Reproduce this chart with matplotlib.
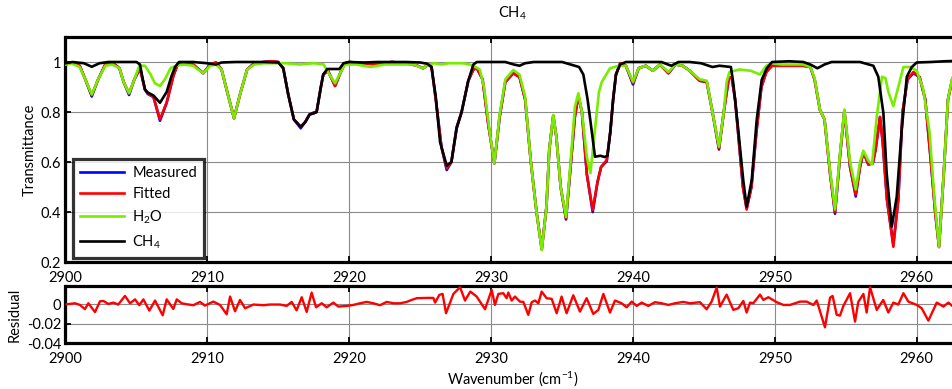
import matplotlib
matplotlib.use("Agg")
import matplotlib.pyplot as plt

plt.rcParams['font.family'] = ['Lato', 'DejaVu Sans']
plt.rcParams['mathtext.fontset'] = 'custom'
plt.rcParams['mathtext.rm'] = 'Lato'
plt.rcParams['mathtext.it'] = 'Lato'
plt.rcParams['mathtext.default'] = 'regular'

# ---------------- data ----------------
wn_fit = [2900.0, 2900.4, 2901.0, 2901.4, 2901.85, 2902.3, 2902.8, 2903.3, 2903.8, 2904.1,
          2904.48, 2904.85, 2905.25, 2905.6, 2905.8, 2906.2, 2906.66, 2907.13, 2907.6, 2907.9,
          2908.3, 2909.0, 2909.71, 2910.2, 2910.6, 2911.0, 2911.4, 2911.88, 2912.3, 2912.8,
          2913.3, 2914.0, 2914.5, 2915.0, 2915.35, 2915.7, 2916.1, 2916.58, 2916.9, 2917.2,
          2917.5, 2917.7, 2918.0, 2918.17, 2918.5, 2919.0, 2919.4, 2919.7, 2920.0, 2921.0,
          2922.0, 2923.0, 2924.0, 2924.8, 2925.2, 2925.6, 2925.8, 2926.1, 2926.5, 2926.87,
          2927.2, 2927.57, 2927.92, 2928.39, 2928.75, 2929.0, 2929.4, 2929.8, 2930.23, 2930.6,
          2931.0, 2931.56, 2932.0, 2932.4, 2932.8, 2933.2, 2933.57, 2933.9, 2934.1, 2934.38,
          2934.6, 2934.9, 2935.28, 2935.6, 2935.9, 2936.15, 2936.4, 2936.75, 2937.16, 2937.5,
          2937.75, 2938.15, 2938.4, 2938.6, 2938.8, 2939.1, 2939.5, 2940.0, 2940.4, 2940.9,
          2941.4, 2941.9, 2942.5, 2943.0, 2943.5, 2944.0, 2944.7, 2945.2, 2945.6, 2946.06,
          2946.4, 2946.75, 2946.95, 2947.2, 2947.5, 2947.75, 2948.01, 2948.35, 2948.7, 2949.05,
          2949.4, 2949.8, 2950.5, 2952.0, 2952.5, 2952.8, 2953.18, 2953.5, 2953.9, 2954.24,
          2954.6, 2954.9, 2955.3, 2955.7, 2956.0, 2956.24, 2956.59, 2956.9, 2957.1, 2957.41,
          2957.6, 2957.9, 2958.35, 2958.7, 2959.0, 2959.35, 2959.76, 2960.2, 2960.6, 2961.0,
          2961.3, 2961.57, 2961.9, 2962.2, 2962.5, 2963.0]
t_fitted = [0.99, 0.998, 0.985, 0.93, 0.868, 0.93, 0.99, 0.998, 0.975, 0.92,
            0.875, 0.93, 0.975, 0.89, 0.875, 0.86, 0.771, 0.837, 0.944, 0.99,
            0.998, 0.99, 0.955, 0.99, 0.998, 0.97, 0.88, 0.775, 0.87, 0.97,
            0.995, 1.0, 1.003, 1.0, 0.975, 0.87, 0.77, 0.741, 0.76, 0.79,
            0.795, 0.80, 0.9, 0.95, 0.965, 0.904, 0.96, 0.995, 1.0, 0.995,
            0.99, 1.0, 0.995, 0.985, 0.975, 0.99, 0.98, 0.85, 0.66, 0.575,
            0.6, 0.735, 0.80, 0.925, 0.97, 0.975, 0.93, 0.75, 0.595, 0.78,
            0.92, 0.955, 0.94, 0.85, 0.6, 0.4, 0.25, 0.42, 0.65, 0.785,
            0.7, 0.5, 0.375, 0.58, 0.78, 0.865, 0.8, 0.55, 0.408, 0.52,
            0.58, 0.608, 0.72, 0.85, 0.95, 0.995, 0.985, 0.915, 0.975, 0.985,
            0.965, 0.99, 0.955, 0.99, 0.985, 0.965, 0.925, 0.92, 0.8, 0.655,
            0.8, 0.935, 0.94, 0.85, 0.66, 0.5, 0.41, 0.5, 0.72, 0.9,
            0.96, 0.985, 0.985, 0.985, 0.98, 0.93, 0.808, 0.77, 0.55, 0.40,
            0.63, 0.805, 0.58, 0.47, 0.58, 0.64, 0.59, 0.595, 0.65, 0.78,
            0.68, 0.45, 0.261, 0.45, 0.8, 0.93, 0.96, 0.94, 0.85, 0.6,
            0.4, 0.26, 0.55, 0.85, 0.93, 0.99]
t_measured = [0.99, 0.998, 0.985, 0.93, 0.862, 0.93, 0.99, 0.998, 0.975, 0.92,
              0.868, 0.93, 0.975, 0.89, 0.872, 0.86, 0.765, 0.837, 0.944, 0.99,
              0.998, 0.99, 0.955, 0.99, 0.998, 0.97, 0.88, 0.775, 0.87, 0.97,
              0.995, 1.0, 1.003, 1.0, 0.975, 0.87, 0.77, 0.735, 0.76, 0.79,
              0.798, 0.80, 0.9, 0.95, 0.965, 0.904, 0.96, 0.995, 1.0, 0.995,
              0.99, 1.0, 0.995, 0.985, 0.975, 0.99, 0.98, 0.85, 0.66, 0.568,
              0.6, 0.74, 0.80, 0.925, 0.97, 0.975, 0.93, 0.75, 0.595, 0.78,
              0.92, 0.955, 0.94, 0.85, 0.6, 0.4, 0.252, 0.42, 0.65, 0.785,
              0.7, 0.5, 0.37, 0.58, 0.78, 0.865, 0.8, 0.55, 0.40, 0.52,
              0.58, 0.603, 0.72, 0.85, 0.95, 0.995, 0.985, 0.91, 0.975, 0.985,
              0.965, 0.99, 0.955, 0.99, 0.985, 0.965, 0.925, 0.92, 0.8, 0.65,
              0.8, 0.935, 0.94, 0.85, 0.66, 0.5, 0.415, 0.5, 0.72, 0.9,
              0.96, 0.985, 0.985, 0.985, 0.98, 0.93, 0.808, 0.77, 0.55, 0.393,
              0.63, 0.805, 0.58, 0.462, 0.58, 0.64, 0.59, 0.595, 0.65, 0.78,
              0.68, 0.45, 0.27, 0.45, 0.8, 0.93, 0.955, 0.94, 0.85, 0.6,
              0.4, 0.26, 0.55, 0.85, 0.93, 0.99]

wn_h2o = [2900.0, 2900.4, 2901.0, 2901.4, 2901.85, 2902.3, 2902.8, 2903.3, 2903.8, 2904.1,
          2904.48, 2904.85, 2905.2, 2905.6, 2906.0, 2906.3, 2906.66, 2907.0, 2907.4, 2907.8,
          2908.3, 2909.0, 2909.71, 2910.2, 2910.6, 2911.0, 2911.4, 2911.88, 2912.3, 2912.8,
          2913.3, 2914.0, 2914.5, 2915.5, 2916.5, 2917.5, 2918.2, 2918.6, 2919.0, 2919.4,
          2919.7, 2920.5, 2921.5, 2922.5, 2923.5, 2924.5, 2925.2, 2925.6, 2926.0, 2926.5,
          2927.0, 2927.5, 2928.0, 2928.5, 2928.9, 2929.2, 2929.5, 2929.9, 2930.23, 2930.6,
          2931.0, 2931.56, 2932.0, 2932.4, 2932.8, 2933.2, 2933.57, 2933.9, 2934.1, 2934.38,
          2934.6, 2934.9, 2935.28, 2935.6, 2935.9, 2936.15, 2936.4, 2936.75, 2937.0, 2937.3,
          2937.6, 2937.8, 2938.38, 2939.0, 2939.5, 2940.0, 2940.4, 2940.9, 2941.4, 2941.9,
          2942.5, 2943.0, 2943.5, 2944.0, 2944.7, 2945.2, 2945.6, 2946.06, 2946.4, 2946.6,
          2946.8, 2947.5, 2948.3, 2948.95, 2949.4, 2949.8, 2950.5, 2952.0, 2952.5, 2952.8,
          2953.18, 2953.5, 2953.9, 2954.24, 2954.6, 2954.9, 2955.3, 2955.7, 2956.0, 2956.24,
          2956.59, 2956.85, 2957.18, 2957.55, 2957.8, 2958.0, 2958.35, 2958.7, 2959.06, 2959.55,
          2960.0, 2960.45, 2960.9, 2961.25, 2961.57, 2961.9, 2962.2, 2962.5, 2963.0]
t_h2o = [0.99, 0.995, 0.98, 0.93, 0.87, 0.93, 0.985, 0.99, 0.975, 0.92,
         0.875, 0.93, 0.985, 0.985, 0.95, 0.915, 0.904, 0.93, 0.975, 0.985,
         0.99, 0.985, 0.955, 0.985, 0.99, 0.97, 0.88, 0.775, 0.87, 0.97,
         0.99, 0.995, 0.995, 0.995, 0.99, 0.995, 0.99, 0.95, 0.915, 0.96,
         0.99, 0.99, 0.98, 0.99, 0.99, 0.99, 0.975, 0.99, 0.995, 0.99,
         0.995, 0.995, 0.995, 0.99, 0.98, 0.97, 0.9, 0.72, 0.595, 0.79,
         0.93, 0.968, 0.95, 0.86, 0.6, 0.4, 0.248, 0.42, 0.65, 0.788,
         0.7, 0.5, 0.38, 0.6, 0.82, 0.875, 0.8, 0.62, 0.555, 0.72,
         0.88, 0.92, 0.975, 0.985, 0.985, 0.921, 0.975, 0.985, 0.965, 0.99,
         0.96, 0.99, 0.985, 0.965, 0.931, 0.925, 0.8, 0.661, 0.8, 0.921,
         0.96, 0.97, 0.965, 0.95, 0.985, 0.995, 0.99, 0.99, 0.98, 0.935,
         0.808, 0.77, 0.56, 0.41, 0.64, 0.81, 0.6, 0.49, 0.6, 0.645,
         0.605, 0.59, 0.78, 0.941, 0.935, 0.88, 0.824, 0.9, 0.98, 0.98,
         0.965, 0.893, 0.72, 0.453, 0.261, 0.55, 0.85, 0.935, 0.99]

wn_ch4 = [2900.0, 2900.5, 2901.3, 2901.85, 2902.4, 2903.0, 2904.0, 2905.0, 2905.25, 2905.45,
          2905.6, 2905.8, 2906.2, 2906.66, 2907.13, 2907.45, 2907.72, 2908.0, 2909.0, 2910.0,
          2910.6, 2911.0, 2912.0, 2913.0, 2914.0, 2915.0, 2915.35, 2915.7, 2916.1, 2916.58,
          2916.9, 2917.2, 2917.5, 2917.7, 2918.0, 2918.17, 2918.45, 2919.3, 2919.6, 2920.0,
          2921.0, 2922.0, 2923.0, 2924.0, 2925.0, 2925.5, 2925.8, 2926.1, 2926.4, 2926.87,
          2927.2, 2927.57, 2927.92, 2928.39, 2928.75, 2929.0, 2930.0, 2931.0, 2931.6, 2932.0,
          2932.4, 2933.0, 2934.0, 2935.0, 2935.6, 2936.2, 2936.5, 2936.8, 2937.1, 2937.32,
          2937.7, 2938.0, 2938.2, 2938.4, 2938.6, 2938.8, 2939.09, 2939.5, 2940.0, 2941.0,
          2942.0, 2942.7, 2943.2, 2944.0, 2944.8, 2945.6, 2946.1, 2946.9, 2947.07, 2947.42,
          2947.77, 2948.01, 2948.37, 2948.72, 2949.07, 2949.43, 2949.8, 2951.0, 2952.0, 2952.5,
          2953.0, 2953.5, 2954.0, 2956.0, 2956.94, 2957.29, 2957.65, 2957.88, 2958.24, 2958.59,
          2958.94, 2959.3, 2959.65, 2960.0, 2961.0, 2962.0, 2963.0]
t_ch4 = [0.995, 1.0, 0.995, 0.981, 0.995, 1.0, 1.0, 1.0, 0.99, 0.93,
         0.89, 0.878, 0.866, 0.837, 0.88, 0.94, 0.98, 1.0, 1.0, 0.995,
         0.99, 0.998, 1.0, 1.0, 1.0, 0.998, 0.975, 0.87, 0.77, 0.741,
         0.76, 0.79, 0.795, 0.80, 0.9, 0.95, 0.972, 0.972, 0.995, 1.0,
         0.998, 1.0, 1.0, 1.0, 0.998, 0.993, 0.98, 0.86, 0.68, 0.585,
         0.6, 0.735, 0.80, 0.925, 0.99, 1.0, 1.0, 1.0, 0.99, 0.985,
         0.995, 1.0, 1.0, 1.0, 0.99, 0.98, 0.95, 0.85, 0.72, 0.621,
         0.625, 0.62, 0.625, 0.72, 0.85, 0.95, 0.99, 1.0, 1.0, 1.0,
         1.0, 0.985, 1.0, 1.0, 0.995, 0.98, 0.985, 0.98, 0.915, 0.728,
         0.528, 0.421, 0.528, 0.768, 0.928, 0.975, 1.0, 1.003, 1.0, 0.99,
         0.975, 0.99, 1.0, 1.0, 0.985, 0.941, 0.795, 0.555, 0.341, 0.461,
         0.728, 0.941, 0.98, 0.998, 1.0, 1.003, 1.005]

wn_res = [2900.08, 2900.67, 2901.02, 2901.37, 2901.61, 2902.08, 2902.43, 2902.67, 2903.02, 2903.37,
          2903.72, 2904.19, 2904.55, 2904.9, 2905.2, 2905.49, 2905.91, 2906.31, 2906.85, 2907.13,
          2907.6, 2907.84, 2908.19, 2908.54, 2909.01, 2909.48, 2909.83, 2910.42, 2910.89, 2911.36,
          2911.6, 2911.95, 2912.3, 2912.66, 2913.25, 2913.94, 2914.41, 2915.12, 2915.59, 2915.94,
          2916.29, 2916.65, 2917.0, 2917.35, 2917.66, 2918.06, 2918.41, 2918.88, 2919.23, 2919.82,
          2920.29, 2920.76, 2921.23, 2921.7, 2922.17, 2922.64, 2923.11, 2923.58, 2924.05, 2924.28,
          2924.76, 2925.46, 2925.93, 2926.05, 2926.35, 2926.58, 2926.82, 2927.34, 2927.81, 2928.16,
          2928.53, 2928.98, 2929.57, 2930.04, 2930.27, 2930.51, 2930.86, 2931.09, 2931.21, 2931.45,
          2931.68, 2932.03, 2932.27, 2932.62, 2932.86, 2933.09, 2933.33, 2933.56, 2933.91, 2934.27,
          2934.62, 2934.97, 2935.32, 2935.79, 2936.26, 2936.73, 2937.2, 2937.56, 2937.91, 2938.38,
          2938.73, 2939.2, 2939.55, 2939.91, 2940.26, 2940.61, 2941.08, 2941.55, 2942.02, 2942.49,
          2942.96, 2943.55, 2944.02, 2944.72, 2945.19, 2945.54, 2945.9, 2946.13, 2946.6, 2947.07,
          2947.42, 2947.78, 2948.01, 2948.25, 2948.48, 2948.95, 2949.19, 2949.54, 2950.13, 2950.6,
          2951.07, 2951.77, 2952.24, 2952.71, 2952.95, 2953.53, 2953.89, 2954.07, 2954.36, 2954.59,
          2954.83, 2955.3, 2955.65, 2955.88, 2956.24, 2956.47, 2956.71, 2957.18, 2957.64, 2958.0,
          2958.35, 2958.7, 2959.06, 2959.41, 2960.0, 2960.35, 2960.82, 2961.17, 2961.41, 2961.88,
          2962.23, 2962.56, 2963.0]
residual = [0.0, 0.001, -0.0007, -0.005, 0.001, -0.008, 0.003, 0.0034, 0.0003, 0.0017,
            -0.0003, 0.0085, 0.001, 0.005, -0.001, 0.005, -0.0065, 0.0038, -0.0113, 0.005,
            -0.0048, 0.005, 0.001, 0.0, -0.001, 0.0024, -0.0014, 0.0027, -0.0007, -0.0103,
            0.0079, -0.0072, 0.0044, -0.0041, -0.0003, -0.001, -0.0003, -0.0003, -0.0017, 0.0024,
            -0.0062, 0.0072, -0.0079, 0.012, -0.0031, 0.001, -0.0031, 0.0017, -0.0024, -0.0017,
            -0.0007, 0.001, 0.0024, 0.001, -0.001, 0.0024, 0.001, 0.001, 0.0024, 0.0038,
            0.0062, 0.0065, 0.0065, 0.0017, 0.0096, 0.0106, -0.0092, 0.0106, 0.0174, 0.0038,
            0.013, 0.0079, -0.0051, 0.0147, -0.0007, 0.0106, 0.0113, 0.0062, 0.012, 0.0038,
            0.0079, 0.0027, 0.0024, -0.0109, 0.0021, 0.0038, 0.001, 0.013, 0.0062, 0.0055,
            -0.0092, 0.0079, -0.0092, 0.0092, -0.0075, 0.0062, -0.0099, -0.0058, 0.0106, -0.0085,
            0.0038, 0.001, -0.0031, 0.0027, -0.0017, 0.0017, -0.0017, 0.0021, 0.001, -0.0007,
            0.001, 0.0024, 0.001, 0.0021, -0.0051, 0.0027, 0.0171, -0.0024, 0.0099, -0.0058,
            -0.0041, 0.0034, -0.0085, 0.0017, 0.001, 0.0099, 0.0044, 0.0072, 0.0021, -0.0007,
            -0.0007, 0.0027, 0.0027, -0.0007, 0.0038, -0.0236, 0.0068, 0.0085, -0.0109, -0.0116,
            -0.0017, 0.0113, -0.0178, 0.0024, 0.0106, -0.0085, 0.0174, -0.0058, 0.0044, -0.0085,
            0.0017, -0.0003, 0.0113, 0.0027, -0.0007, -0.0041, -0.0168, -0.0058, 0.0017, -0.0024,
            0.0017, -0.0024, 0.0]

series_labels = ['Measured', 'Fitted', 'H$_\\mathrm{2}$O', 'CH$_\\mathrm{4}$']
title_text = 'CH$_\\mathrm{4}$'
x_ticks = [2900, 2910, 2920, 2930, 2940, 2950, 2960]
top_yticks = [0.2, 0.4, 0.6, 0.8, 1.0]
top_yticklabels = ['0.2', '0.4', '0.6', '0.8', '1']
res_yticks = [-0.04, -0.02, 0.0]
res_yticklabels = ['-0.04', '-0.02', '0']

assert len(wn_fit) == len(t_fitted) == len(t_measured)
assert len(wn_h2o) == len(t_h2o)
assert len(wn_ch4) == len(t_ch4)
assert len(wn_res) == len(residual)

# ---------------- figure ----------------
W, H = 953, 389
fig = plt.figure(figsize=(W / 100, H / 100), dpi=100)

def px_axes(x0, y0, x1, y1):
    return fig.add_axes([x0 / W, 1 - y1 / H, (x1 - x0) / W, (y1 - y0) / H])

ax = px_axes(65.5, 37, 959.3, 262)
axr = px_axes(65.5, 285.7, 959.3, 343.3)

lw = 1.9
ax.plot(wn_fit, t_measured, color='#0000ff', lw=lw, label=series_labels[0], zorder=3)
ax.plot(wn_fit, t_fitted, color='#ff0000', lw=lw, label=series_labels[1], zorder=4)
ax.plot(wn_h2o, t_h2o, color='#77ee00', lw=lw, label=series_labels[2], zorder=5)
ax.plot(wn_ch4, t_ch4, color='#000000', lw=lw, label=series_labels[3], zorder=6)

axr.plot(wn_res, residual, color='#ff0000', lw=1.7, zorder=3)

for a in (ax, axr):
    a.set_xlim(2900, 2963)
    a.set_xticks(x_ticks)
    a.set_xticklabels([str(v) for v in x_ticks])
    a.grid(True, color='#8a8a8a', lw=0.8)
    a.set_axisbelow(True)
    for s in a.spines.values():
        s.set_linewidth(2.3)
    a.tick_params(direction='in', top=True, right=True, length=4, width=1.3,
                  labelsize=10.5, colors='black')
    a.tick_params(axis='x', pad=6.5)
    a.tick_params(axis='y', pad=3)

ax.set_ylim(0.2, 1.1)
ax.set_yticks(top_yticks)
ax.set_yticklabels(top_yticklabels)
ax.set_ylabel('Transmittance', fontsize=10.5, labelpad=3)
ax.set_title(title_text, fontsize=10.5, pad=14)

axr.set_ylim(-0.04, 0.019)
axr.set_yticks(res_yticks)
axr.set_yticklabels(res_yticklabels)
axr.set_ylabel('Residual', fontsize=10.5, labelpad=4)
axr.set_xlabel('Wavenumber (cm$^{-1}$)', fontsize=10.5, labelpad=2)

leg = ax.legend(loc='lower left', bbox_to_anchor=(0.008, 0.018), frameon=True,
                fancybox=False, edgecolor='black', fontsize=10.5, handlelength=3.0,
                labelspacing=0.5, borderpad=0.5, handletextpad=0.6, borderaxespad=0)
leg.get_frame().set_linewidth(2.3)
for line in leg.get_lines():
    line.set_linewidth(1.9)

fig.savefig('out.png', dpi=100)
